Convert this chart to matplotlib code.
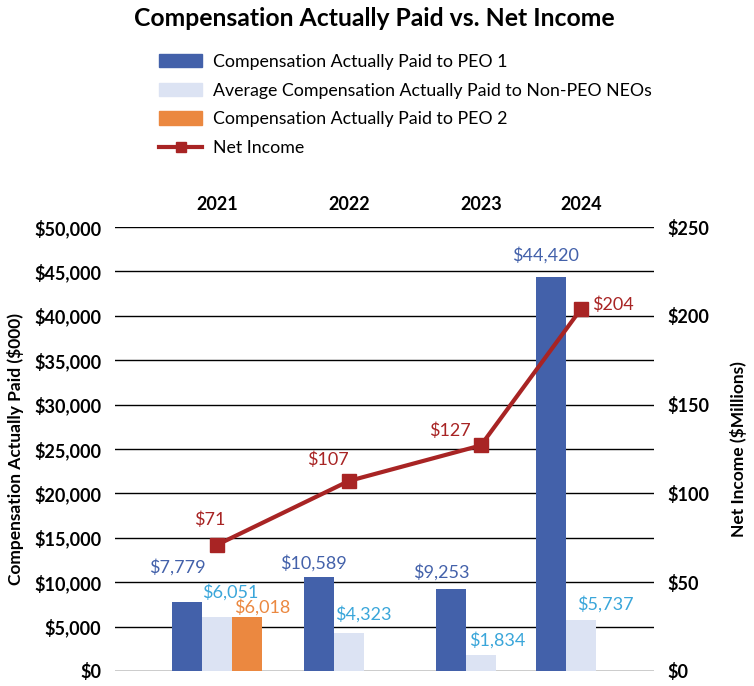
import numpy as np
import matplotlib
matplotlib.use("Agg")
from matplotlib import pyplot as plt
from matplotlib.patches import Patch
from matplotlib.lines import Line2D

plt.rcParams['font.family'] = ['Lato', 'DejaVu Sans']

# data
years = ['2021', '2022', '2023', '2024']
peo1 = [7779, 10589, 9253, 44420]
non_peo = [6051, 4323, 1834, 5737]
peo2 = [6018, None, None, None]
net_income = [71, 107, 127, 204]

# category positions (2024 sits closer to 2023 in the original)
x_pos = np.array([0.0, 1.0, 2.0, 2.76])
bw = 0.227

c_peo1 = '#4361AA'
c_non = '#DCE3F3'
c_peo2 = '#EB8840'
c_net = '#A82424'
c_non_lbl = '#3AA6DA'

# label offsets in pixels
peo1_off = [(-10, 35), (-6, 14), (-10, 17), (-6, 21)]
non_off = [(13, 25), (14, 18), (16, 14), (24, 16)]
peo2_off = [(15, 10)]
net_off = [(-7, 25), (-21, 21), (-31, 15), (32, 4)]

fig = plt.figure(figsize=(7.54, 6.86), dpi=100)
ax = fig.add_axes([0.1525, 0.022, 0.7145, 0.647])

ax.bar(x_pos - bw, peo1, bw, color=c_peo1, zorder=2)
ax.bar(x_pos, non_peo, bw, color=c_non, zorder=2)
p2x = [x for x, v in zip(x_pos, peo2) if v is not None]
p2v = [v for v in peo2 if v is not None]
ax.bar(np.array(p2x) + bw, p2v, bw, color=c_peo2, zorder=2)

ax.set_ylim(0, 50000)
ax.set_xlim(-0.773, 3.31)
ax.set_yticks(np.arange(0, 50001, 5000))
ax.set_yticklabels(['${:,.0f}'.format(v) for v in np.arange(0, 50001, 5000)],
                   fontsize=13, fontweight='bold')
ax.yaxis.grid(True, color='black', linewidth=1)
ax.set_axisbelow(True)
for s in ax.spines.values():
    s.set_visible(False)
ax.tick_params(axis='y', length=0, pad=10)
ax.set_xticks(x_pos)
ax.set_xticklabels(years, fontsize=13, fontweight='bold')
ax.tick_params(axis='x', top=True, labeltop=True, bottom=False,
               labelbottom=False, length=0, pad=10)
ax.set_ylabel('Compensation Actually Paid ($000)', fontsize=12.5,
              fontweight='bold', labelpad=7)

# bar value labels
for x, v, off in zip(x_pos, peo1, peo1_off):
    ax.annotate('${:,}'.format(v), (x - bw, v), xytext=off,
                textcoords='offset pixels', ha='center', va='center',
                color=c_peo1, fontsize=13)
for x, v, off in zip(x_pos, non_peo, non_off):
    ax.annotate('${:,}'.format(v), (x, v), xytext=off,
                textcoords='offset pixels', ha='center', va='center',
                color=c_non_lbl, fontsize=13)
for x, v, off in zip(p2x, p2v, peo2_off):
    ax.annotate('${:,}'.format(v), (x + bw, v), xytext=off,
                textcoords='offset pixels', ha='center', va='center',
                color=c_peo2, fontsize=13)

ax2 = ax.twinx()
ax2.plot(x_pos, net_income, color=c_net, linewidth=3, marker='s',
         markersize=10, zorder=5)
ax2.set_ylim(0, 250)
ax2.set_yticks(np.arange(0, 251, 50))
ax2.set_yticklabels(['${}'.format(v) for v in np.arange(0, 251, 50)],
                    fontsize=13, fontweight='bold')
ax2.tick_params(axis='y', length=0, pad=10)
for s in ax2.spines.values():
    s.set_visible(False)
ax2.set_ylabel('Net Income ($Millions)', fontsize=12.5, fontweight='bold',
               labelpad=15)

for x, v, off in zip(x_pos, net_income, net_off):
    ax2.annotate('${}'.format(v), (x, v), xytext=off,
                 textcoords='offset pixels', ha='center', va='center',
                 color=c_net, fontsize=13)

fig.suptitle('Compensation Actually Paid vs. Net Income', fontsize=17.8,
             fontweight='bold', x=0.497, y=0.99)

handles = [Patch(color=c_peo1), Patch(color=c_non), Patch(color=c_peo2),
           Line2D([], [], color=c_net, linewidth=3, marker='s', markersize=7)]
labels = ['Compensation Actually Paid to PEO 1',
          'Average Compensation Actually Paid to Non-PEO NEOs',
          'Compensation Actually Paid to PEO 2',
          'Net Income']
fig.legend(handles, labels, loc='upper left', bbox_to_anchor=(0.19, 0.945),
           frameon=False, fontsize=12.8, handlelength=2.4, handleheight=0.8,
           labelspacing=0.72, handletextpad=0.6)

fig.savefig('out.png', dpi=100)
